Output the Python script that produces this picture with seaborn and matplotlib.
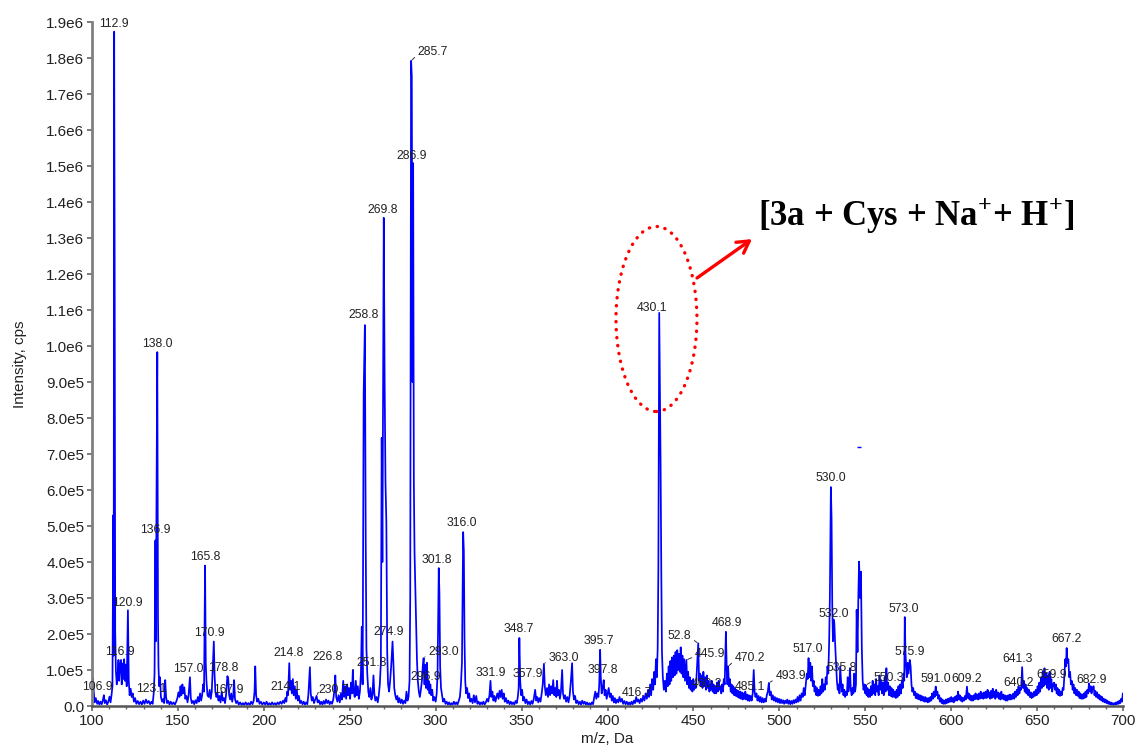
import numpy as np
import pandas as pd
import matplotlib
matplotlib.use("Agg")
import matplotlib.pyplot as plt
from matplotlib.patches import Ellipse
import seaborn as sns

# Profile spectrum, (m/z, intensity in kcps), split by m/z range
seg_100_200 = [
    (100.0, 15), (100.5, 78), (101.0, 40), (101.5, 10), (102.2, 22), (103.0, 6), (103.6, 14), (104.3, 4),
    (105.0, 12), (105.7, 5), (106.4, 18), (106.9, 30), (107.4, 8), (108.1, 16), (108.8, 4), (109.5, 12),
    (110.2, 26), (110.8, 10), (111.4, 32), (111.9, 55), (112.4, 530), (112.6, 140), (112.9, 1873),
    (113.2, 1190), (113.5, 210), (113.9, 98), (114.4, 60), (114.9, 85), (115.4, 128), (115.8, 70),
    (116.3, 110), (116.9, 128), (117.3, 60), (117.8, 118), (118.3, 75), (118.7, 130), (119.2, 70),
    (119.7, 115), (120.2, 55), (120.9, 266), (121.4, 70), (121.9, 30), (122.5, 48), (123.1, 25),
    (123.7, 35), (124.4, 12), (125.1, 22), (125.8, 6), (126.6, 14), (127.4, 5), (128.2, 12), (129.0, 4),
    (129.8, 15), (130.6, 6), (131.4, 18), (132.2, 8), (133.0, 14), (133.8, 5), (134.6, 12), (135.3, 6),
    (135.9, 35), (136.4, 90), (136.9, 460), (137.2, 180), (137.5, 540), (138.0, 983), (138.4, 250),
    (138.7, 109), (139.1, 55), (139.6, 80), (140.1, 25), (140.8, 12), (141.5, 20), (142.0, 8), (142.6, 72),
    (143.1, 25), (143.7, 8), (144.4, 14), (145.1, 4), (145.8, 12), (146.6, 5), (147.4, 10), (148.2, 4),
    (149.0, 12), (149.7, 22), (150.3, 38), (150.9, 25), (151.5, 55), (152.0, 30), (152.6, 60), (153.1, 35),
    (153.7, 52), (154.3, 20), (154.9, 28), (155.6, 10), (156.2, 30), (157.0, 80), (157.5, 22), (158.1, 8),
    (158.8, 14), (159.5, 5), (160.2, 16), (160.9, 8), (161.6, 25), (162.2, 12), (162.9, 35), (163.5, 15),
    (164.1, 30), (164.7, 60), (165.2, 40), (165.8, 390), (166.2, 120), (166.6, 70), (167.2, 30), (167.9, 25),
    (168.5, 45), (169.1, 20), (169.7, 40), (170.3, 110), (170.9, 179), (171.3, 90), (171.8, 40), (172.4, 25),
    (173.0, 35), (173.6, 15), (174.2, 28), (174.8, 10), (175.5, 40), (176.1, 15), (176.8, 22), (177.4, 8),
    (178.0, 30), (178.8, 83), (179.3, 75), (179.8, 30), (180.4, 18), (181.0, 35), (181.6, 12), (182.2, 28),
    (182.7, 72), (183.2, 20), (183.9, 8), (184.6, 14), (185.4, 4), (186.2, 10), (187.0, 3), (187.8, 8),
    (188.6, 3), (189.4, 10), (190.2, 4), (191.0, 8), (191.8, 3), (192.6, 12), (193.4, 5), (194.1, 15),
    (194.6, 40), (195.0, 110), (195.5, 30), (196.1, 12), (196.8, 20), (197.5, 6), (198.3, 12), (199.1, 4),
]

seg_200_300 = [
    (200.0, 10), (200.8, 4), (201.6, 12), (202.4, 3), (203.2, 8), (204.0, 3), (204.8, 10), (205.6, 4),
    (206.4, 8), (207.2, 3), (208.0, 10), (208.8, 5), (209.6, 12), (210.4, 6), (211.2, 15), (211.9, 8),
    (212.5, 22), (213.1, 12), (213.6, 40), (214.1, 30), (214.8, 119), (215.3, 45), (215.8, 70), (216.3, 35),
    (216.9, 75), (217.4, 30), (218.0, 55), (218.6, 20), (219.2, 45), (219.8, 15), (220.4, 28), (221.1, 8),
    (221.8, 14), (222.5, 5), (223.2, 12), (223.9, 4), (224.6, 10), (225.3, 5), (225.9, 30), (226.8, 107),
    (227.3, 35), (227.9, 15), (228.5, 25), (229.2, 8), (229.9, 18), (230.7, 28), (231.3, 10), (232.0, 16),
    (232.7, 5), (233.4, 12), (234.1, 4), (234.8, 14), (235.5, 6), (236.2, 18), (236.9, 8), (237.6, 15),
    (238.3, 5), (239.0, 12), (239.7, 6), (240.4, 18), (241.0, 40), (241.6, 85), (242.1, 25), (242.8, 12),
    (243.5, 30), (244.2, 10), (244.9, 35), (245.5, 18), (246.2, 70), (246.7, 25), (247.3, 55), (247.9, 20),
    (248.5, 60), (249.0, 30), (249.6, 50), (250.2, 20), (250.8, 65), (251.3, 35), (251.8, 100), (252.3, 40),
    (252.9, 25), (253.5, 70), (254.1, 30), (254.7, 55), (255.3, 20), (255.9, 40), (256.5, 90), (257.0, 220),
    (257.5, 60), (258.1, 870), (258.8, 1058), (259.3, 450), (259.7, 160), (260.2, 90), (260.8, 40),
    (261.4, 25), (262.0, 50), (262.6, 18), (263.2, 30), (263.8, 85), (264.3, 35), (264.9, 15), (265.6, 25),
    (266.3, 10), (266.9, 30), (267.5, 60), (268.1, 120), (268.6, 745), (269.0, 400), (269.8, 1356),
    (270.3, 900), (270.8, 620), (271.3, 510), (271.8, 150), (272.3, 60), (272.9, 40), (273.5, 70),
    (274.1, 110), (274.9, 179), (275.4, 120), (275.9, 50), (276.5, 30), (277.1, 18), (277.7, 28), (278.3, 10),
    (278.9, 22), (279.6, 8), (280.3, 18), (281.0, 6), (281.7, 15), (282.4, 8), (283.0, 40), (283.6, 15),
    (284.2, 25), (284.8, 70), (285.2, 300), (285.7, 1792), (286.1, 1750), (286.5, 900), (286.9, 1508),
    (287.3, 620), (287.7, 427), (288.1, 340), (288.6, 220), (289.1, 130), (289.6, 70), (290.2, 40),
    (290.8, 25), (291.4, 45), (292.0, 70), (292.5, 110), (293.0, 133), (293.5, 60), (293.9, 115), (294.4, 50),
    (294.9, 120), (295.4, 45), (295.9, 70), (296.4, 35), (296.9, 60), (297.4, 30), (298.0, 45), (298.6, 15),
    (299.2, 25),
]

seg_300_420 = [
    (300.0, 12), (300.6, 35), (301.1, 90), (301.8, 383), (302.2, 310), (302.6, 110), (303.1, 50), (303.7, 30),
    (304.3, 12), (305.0, 20), (305.7, 6), (306.4, 12), (307.1, 4), (307.8, 10), (308.5, 3), (309.2, 8),
    (309.9, 4), (310.6, 12), (311.3, 5), (312.0, 10), (312.7, 4), (313.4, 14), (314.1, 25), (314.7, 60),
    (315.3, 120), (316.0, 483), (316.4, 430), (316.8, 180), (317.2, 70), (317.7, 35), (318.3, 50), (318.9, 22),
    (319.5, 35), (320.1, 12), (320.8, 20), (321.5, 8), (322.2, 30), (322.9, 10), (323.6, 28), (324.3, 6),
    (325.0, 12), (325.7, 4), (326.4, 10), (327.1, 5), (327.8, 12), (328.5, 4), (329.2, 10), (329.9, 20),
    (330.6, 12), (331.3, 30), (331.9, 70), (332.4, 25), (333.0, 40), (333.6, 15), (334.2, 28), (334.8, 12),
    (335.4, 25), (336.0, 35), (336.6, 20), (337.2, 42), (337.8, 25), (338.4, 45), (339.0, 20), (339.6, 35),
    (340.2, 12), (340.9, 22), (341.6, 8), (342.3, 15), (343.0, 5), (343.7, 12), (344.4, 5), (345.1, 10),
    (345.8, 4), (346.5, 14), (347.2, 8), (347.8, 25), (348.3, 50), (348.7, 189), (349.2, 70), (349.7, 30),
    (350.3, 45), (350.9, 15), (351.5, 25), (352.2, 8), (352.9, 18), (353.6, 5), (354.3, 12), (355.0, 4),
    (355.7, 14), (356.4, 6), (357.1, 20), (357.9, 45), (358.5, 15), (359.1, 25), (359.7, 10), (360.3, 22),
    (361.0, 12), (361.7, 35), (362.3, 60), (363.0, 117), (363.5, 55), (364.1, 30), (364.8, 50), (365.4, 25),
    (366.0, 60), (366.6, 30), (367.2, 55), (367.8, 35), (368.4, 72), (369.0, 30), (369.6, 50), (370.2, 25),
    (370.6, 70), (371.1, 30), (371.7, 45), (372.3, 20), (372.9, 40), (373.6, 100), (374.1, 35), (374.7, 20),
    (375.3, 30), (375.9, 12), (376.6, 25), (377.3, 10), (378.0, 30), (378.7, 70), (379.4, 119), (379.9, 40),
    (380.5, 18), (381.1, 28), (381.8, 8), (382.5, 15), (383.2, 5), (383.9, 12), (384.6, 4), (385.3, 15),
    (386.0, 6), (386.7, 12), (387.4, 4), (388.1, 10), (388.8, 3), (389.5, 8), (390.2, 3), (390.9, 10),
    (391.6, 5), (392.3, 25), (392.9, 40), (393.5, 20), (394.1, 35), (394.7, 25), (395.2, 60), (395.7, 156),
    (396.1, 80), (396.6, 35), (397.2, 50), (397.8, 72), (398.3, 30), (398.9, 45), (399.5, 20), (400.1, 35),
    (400.7, 50), (401.3, 25), (401.9, 35), (402.5, 15), (403.1, 28), (403.7, 10), (404.3, 22), (404.9, 8),
    (405.6, 18), (406.3, 10), (407.0, 25), (407.7, 12), (408.4, 20), (409.1, 6), (409.8, 14), (410.5, 5),
    (411.2, 12), (411.9, 4), (412.6, 10), (413.3, 3), (414.0, 12), (414.7, 5), (415.4, 15), (416.0, 8),
    (416.7, 25), (417.3, 12), (418.0, 18), (418.7, 8), (419.4, 20),
]

seg_420_520 = [
    (420.1, 12), (420.8, 28), (421.5, 15), (422.2, 35), (422.9, 20), (423.6, 45), (424.2, 25), (424.8, 60),
    (425.4, 30), (426.0, 75), (426.6, 45), (427.2, 95), (427.7, 60), (428.2, 130), (428.7, 80), (429.2, 160),
    (429.6, 380), (430.1, 1092), (430.5, 880), (430.9, 670), (431.3, 380), (431.7, 150), (432.2, 80),
    (432.8, 45), (433.4, 70), (434.0, 40), (434.6, 90), (435.1, 55), (435.6, 110), (436.1, 60), (436.6, 125),
    (437.1, 70), (437.6, 135), (438.1, 80), (438.6, 140), (439.1, 85), (439.6, 150), (440.1, 90), (440.6, 155),
    (441.1, 100), (441.6, 145), (442.1, 95), (442.6, 163), (443.1, 90), (443.6, 140), (444.1, 80), (444.6, 130),
    (445.1, 70), (445.9, 128), (446.4, 60), (446.9, 95), (447.4, 50), (447.9, 80), (448.4, 45), (448.9, 70),
    (449.4, 40), (449.9, 75), (450.4, 45), (450.9, 60), (451.4, 50), (451.9, 90), (452.8, 174), (453.3, 70),
    (453.8, 90), (454.3, 55), (454.8, 85), (455.3, 50), (455.8, 95), (456.3, 55), (456.8, 80), (457.3, 45),
    (457.8, 85), (458.3, 50), (458.8, 70), (459.3, 40), (459.8, 60), (460.2, 45), (460.7, 70), (461.2, 40),
    (461.7, 60), (462.2, 35), (462.7, 55), (463.2, 35), (463.7, 65), (464.2, 40), (464.7, 70), (465.2, 45),
    (465.7, 55), (466.2, 35), (466.7, 60), (467.2, 40), (467.7, 75), (468.2, 60), (468.9, 206), (469.4, 100),
    (469.8, 60), (470.2, 110), (470.7, 55), (471.2, 75), (471.7, 40), (472.2, 60), (472.7, 35), (473.2, 55),
    (473.7, 30), (474.2, 50), (474.7, 28), (475.2, 45), (475.7, 25), (476.2, 42), (476.7, 22), (477.2, 40),
    (477.7, 20), (478.2, 38), (478.7, 18), (479.2, 35), (479.7, 20), (480.2, 40), (480.7, 18), (481.2, 32),
    (481.7, 15), (482.2, 30), (482.7, 14), (483.3, 28), (483.9, 15), (484.5, 35), (485.1, 100), (485.6, 40),
    (486.1, 25), (486.7, 35), (487.3, 15), (487.9, 28), (488.5, 12), (489.1, 25), (489.7, 10), (490.3, 22),
    (490.9, 10), (491.5, 20), (492.1, 12), (492.7, 30), (493.3, 40), (493.9, 64), (494.4, 30), (495.0, 40),
    (495.6, 18), (496.2, 30), (496.8, 15), (497.4, 25), (498.0, 12), (498.6, 22), (499.2, 10), (499.8, 20),
    (500.4, 8), (501.0, 18), (501.6, 8), (502.2, 16), (502.8, 6), (503.4, 15), (504.0, 8), (504.6, 18),
    (505.2, 6), (505.8, 15), (506.4, 5), (507.0, 14), (507.6, 6), (508.2, 16), (508.8, 8), (509.4, 18),
    (510.0, 10), (510.6, 25), (511.2, 12), (511.8, 30), (512.4, 15), (513.0, 35), (513.6, 25), (514.2, 50),
    (514.8, 30), (515.4, 60), (516.0, 90), (516.5, 75), (517.0, 133), (517.5, 80), (518.0, 120), (518.5, 70),
    (519.0, 110), (519.5, 55),
]

seg_520_620 = [
    (520.0, 70), (520.5, 40), (521.0, 55), (521.5, 30), (522.0, 50), (522.5, 28), (523.0, 45), (523.5, 30),
    (524.0, 55), (524.5, 35), (525.0, 75), (525.5, 40), (526.0, 60), (526.5, 45), (527.0, 80), (527.5, 60),
    (528.0, 110), (528.5, 90), (529.0, 180), (529.4, 300), (530.0, 608), (530.4, 520), (530.8, 280),
    (531.2, 180), (531.6, 240), (532.0, 231), (532.5, 170), (533.0, 120), (533.5, 70), (534.0, 45),
    (534.5, 60), (535.0, 35), (535.4, 110), (535.8, 80), (536.3, 40), (536.8, 60), (537.3, 30), (537.8, 45),
    (538.3, 25), (538.8, 40), (539.3, 30), (539.8, 80), (540.2, 40), (540.7, 60), (541.1, 105), (541.6, 45),
    (542.1, 30), (542.6, 50), (543.1, 35), (543.6, 90), (544.1, 40), (544.6, 60), (545.0, 267), (545.5, 150),
    (546.0, 310), (546.4, 401), (547.0, 300), (547.5, 373), (548.0, 160), (548.5, 70), (549.0, 45),
    (549.5, 60), (550.0, 35), (550.3, 58), (550.8, 30), (551.3, 50), (551.8, 25), (552.3, 45), (552.8, 25),
    (553.3, 55), (553.8, 30), (554.3, 70), (554.8, 35), (555.3, 60), (555.8, 30), (556.3, 75), (556.8, 40),
    (557.3, 55), (557.8, 30), (558.3, 85), (558.8, 45), (559.3, 70), (559.8, 35), (560.3, 65), (560.8, 30),
    (561.3, 80), (561.8, 40), (562.3, 105), (562.8, 45), (563.3, 65), (563.8, 30), (564.3, 55), (564.8, 28),
    (565.3, 50), (565.8, 25), (566.3, 45), (566.8, 25), (567.3, 40), (567.8, 22), (568.3, 45), (568.8, 25),
    (569.3, 55), (569.8, 30), (570.3, 60), (570.8, 35), (571.3, 70), (571.8, 50), (572.3, 90), (572.7, 70),
    (573.0, 247), (573.4, 150), (573.8, 110), (574.2, 80), (574.7, 120), (575.2, 90), (575.9, 128),
    (576.4, 110), (576.9, 60), (577.4, 40), (577.9, 50), (578.4, 30), (578.9, 40), (579.4, 22), (579.9, 35),
    (580.4, 20), (580.9, 32), (581.4, 18), (581.9, 30), (582.4, 15), (582.9, 28), (583.4, 15), (583.9, 25),
    (584.4, 12), (584.9, 25), (585.4, 12), (585.9, 22), (586.4, 10), (586.9, 22), (587.4, 12), (587.9, 25),
    (588.4, 15), (588.9, 35), (589.4, 20), (589.9, 40), (590.4, 25), (591.0, 54), (591.5, 30), (592.0, 40),
    (592.5, 20), (593.0, 30), (593.5, 12), (594.0, 22), (594.5, 8), (595.0, 18), (595.5, 6), (596.0, 15),
    (596.5, 6), (597.0, 18), (597.5, 8), (598.0, 20), (598.5, 10), (599.0, 22), (599.5, 12), (600.0, 25),
    (600.5, 12), (601.0, 22), (601.5, 10), (602.0, 25), (602.5, 15), (603.0, 28), (603.5, 15), (604.0, 40),
    (604.5, 18), (605.0, 30), (605.5, 15), (606.0, 25), (606.5, 12), (607.0, 22), (607.5, 15), (608.0, 28),
    (608.5, 18), (609.2, 54), (609.7, 22), (610.2, 35), (610.7, 18), (611.2, 30), (611.7, 15), (612.2, 28),
    (612.7, 15), (613.2, 30), (613.7, 18), (614.2, 35), (614.7, 20), (615.2, 32), (615.7, 18), (616.2, 35),
    (616.7, 20), (617.2, 40), (617.7, 22), (618.2, 35), (618.7, 20), (619.2, 38), (619.7, 22),
]

seg_620_700 = [
    (620.2, 40), (620.7, 22), (621.2, 45), (621.7, 25), (622.2, 38), (622.7, 20), (623.2, 42), (623.7, 22),
    (624.2, 48), (624.7, 25), (625.2, 40), (625.7, 20), (626.2, 45), (626.7, 25), (627.2, 38), (627.7, 20),
    (628.2, 35), (628.7, 18), (629.2, 40), (629.7, 20), (630.2, 32), (630.7, 18), (631.2, 30), (631.7, 15),
    (632.2, 28), (632.7, 15), (633.2, 30), (633.7, 18), (634.2, 32), (634.7, 18), (635.2, 30), (635.7, 20),
    (636.2, 35), (636.7, 20), (637.2, 40), (637.7, 25), (638.2, 45), (638.7, 30), (639.2, 55), (639.7, 35),
    (640.2, 50), (640.7, 45), (641.3, 108), (641.8, 50), (642.3, 70), (642.8, 40), (643.3, 60), (643.8, 35),
    (644.3, 50), (644.8, 30), (645.3, 45), (645.8, 25), (646.3, 38), (646.8, 22), (647.3, 35), (647.8, 25),
    (648.3, 40), (648.8, 28), (649.3, 45), (649.8, 30), (650.3, 55), (650.8, 35), (651.3, 65), (651.8, 40),
    (652.3, 80), (652.8, 50), (653.3, 95), (653.8, 55), (654.3, 105), (654.8, 60), (655.3, 90), (655.8, 50),
    (656.3, 85), (656.8, 45), (657.3, 95), (657.8, 50), (658.3, 75), (658.8, 40), (659.3, 60), (659.9, 65),
    (660.4, 45), (660.9, 60), (661.4, 35), (661.9, 50), (662.4, 30), (662.9, 45), (663.4, 28), (663.9, 40),
    (664.4, 30), (664.9, 50), (665.4, 45), (665.9, 90), (666.4, 130), (666.8, 110), (667.2, 161), (667.7, 120),
    (668.2, 130), (668.7, 80), (669.2, 95), (669.7, 60), (670.2, 70), (670.7, 45), (671.2, 60), (671.7, 35),
    (672.2, 50), (672.7, 30), (673.2, 45), (673.7, 28), (674.2, 40), (674.7, 22), (675.2, 35), (675.7, 20),
    (676.2, 32), (676.7, 20), (677.2, 35), (677.7, 22), (678.2, 40), (678.7, 25), (679.2, 45), (679.7, 35),
    (680.2, 63), (680.7, 40), (681.2, 55), (681.7, 35), (682.2, 50), (682.9, 55), (683.4, 30), (683.9, 42),
    (684.4, 25), (684.9, 38), (685.4, 22), (685.9, 32), (686.4, 18), (686.9, 28), (687.4, 15), (687.9, 25),
    (688.4, 12), (688.9, 20), (689.4, 10), (689.9, 18), (690.4, 8), (690.9, 15), (691.4, 6), (691.9, 12),
    (692.4, 5), (692.9, 10), (693.4, 4), (693.9, 8), (694.4, 3), (694.9, 8), (695.4, 4), (695.9, 10),
    (696.4, 5), (696.9, 12), (697.4, 6), (697.9, 15), (698.4, 8), (698.9, 20), (699.4, 12), (699.9, 35),
]

# isolated detector point above the 546 m/z cluster (m/z, kcps)
stray_points = [(546.4, 719)]

# centroid labels (m/z) printed above the peaks
peak_labels = [
    112.9, 106.9, 116.9, 120.9, 123.1, 136.9, 138.0, 157.0, 165.8, 167.9, 170.9, 178.8,
    214.1, 214.8, 226.8, 230.7, 251.8, 258.8, 269.8, 274.9, 285.7, 286.9, 293.0, 296.9,
    301.8, 316.0, 331.9, 348.7, 357.9, 363.0, 395.7, 397.8, 416.7, 430.1, 445.9, 452.8,
    460.2, 468.9, 470.2, 485.1, 493.9, 517.0, 530.0, 532.0, 535.8, 550.3, 573.0, 575.9,
    591.0, 609.2, 640.2, 641.3, 659.9, 667.2, 682.9,
]
label_text = {452.8: "52.8"}

y_tick_labels = ["0.0", "1.0e5", "2.0e5", "3.0e5", "4.0e5", "5.0e5", "6.0e5", "7.0e5", "8.0e5",
                 "9.0e5", "1.0e6", "1.1e6", "1.2e6", "1.3e6", "1.4e6", "1.5e6", "1.6e6", "1.7e6",
                 "1.8e6", "1.9e6"]
callout_text = r"[3a + Cys + Na$^{\mathbf{+}}$+ H$^{\mathbf{+}}$]"

# label placement: offset of label centre from the peak apex, in pixels
label_offset = {
    112.9: (0, 8), 106.9: (-6, 8.5), 116.9: (-1, 8), 120.9: (0, 7), 123.1: (20, 7.5),
    136.9: (0, 10), 138.0: (0, 8), 157.0: (-2, 8), 165.8: (0, 9), 167.9: (20, 7),
    170.9: (-4, 9), 178.8: (-4, 8), 214.1: (-2, 8.5), 214.8: (-1, 10), 226.8: (18, 10),
    230.7: (17, 6), 251.8: (19, 6.5), 258.8: (-1, 10), 269.8: (-1, 8), 274.9: (-4, 10),
    285.7: (22, 9), 286.9: (-1, 7), 293.0: (20, 6.5), 296.9: (-5, 7), 301.8: (-2, 8),
    316.0: (-1, 9), 331.9: (0, 8), 348.7: (-1, 9), 357.9: (-7, 16), 363.0: (20, 6),
    395.7: (-1, 9), 397.8: (-1, 10), 416.7: (1, 4), 430.1: (-7, 5), 445.9: (24, 6),
    452.8: (-19, 7.5), 460.2: (-4, 6), 468.9: (1, 9), 470.2: (22, 8.5), 485.1: (-4, -17),
    493.9: (22, 6.5), 517.0: (-1, 9), 530.0: (0, 9), 532.0: (-1, 9), 535.8: (1, 9),
    550.3: (23, 7), 573.0: (-1, 8), 575.9: (0, 8), 591.0: (0, 8), 609.2: (0, 8),
    640.2: (-2, 5), 641.3: (-5, 8), 659.9: (-2, 7.5), 667.2: (0, 9), 682.9: (-2, 6),
}
# labels joined to their peak by a short leader (value = side of the text it leaves from)
leader_side = {123.1: 0, 167.9: 0, 226.8: 0, 230.7: 0, 251.8: 0, 285.7: 0, 293.0: 0,
               363.0: 0, 445.9: 0, 452.8: 1, 470.2: 0, 493.9: 0, 550.3: 0}

sns.set_theme(style="ticks")
plt.rcParams["font.family"] = ["Liberation Sans", "DejaVu Sans"]
plt.rcParams["mathtext.fontset"] = "custom"
plt.rcParams["mathtext.rm"] = "Liberation Serif"
plt.rcParams["mathtext.bf"] = "Liberation Serif:bold"

W, H = 1135, 751
fig = plt.figure(figsize=(W / 100, H / 100), dpi=100)
ax = fig.add_axes([92 / W, 45 / H, (1123 - 92) / W, (706 - 22) / H])

segments = [seg_100_200, seg_200_300, seg_300_420, seg_420_520, seg_520_620, seg_620_700]
spec = pd.DataFrame([p for seg in segments for p in seg], columns=["mz", "kcps"])
spec["intensity"] = spec["kcps"] * 1e3
spec = spec.sort_values("mz").reset_index(drop=True)

blue = "#0000ff"
sns.lineplot(data=spec, x="mz", y="intensity", ax=ax, color=blue, lw=1.25,
             estimator=None, sort=False, legend=False)

stray = pd.DataFrame(stray_points, columns=["mz", "kcps"])
stray["intensity"] = stray["kcps"] * 1e3
sns.scatterplot(data=stray, x="mz", y="intensity", ax=ax, marker="_", s=12,
                color=blue, linewidth=1.0, legend=False)

ax.set_xlim(100, 700)
ax.set_ylim(0, 1.9e6)
ax.set_xticks(np.arange(100, 701, 50))
ax.set_xticks(np.arange(100, 701, 10), minor=True)
ax.set_yticks(np.arange(0, 1.9e6 + 1, 1e5))
ax.set_yticklabels(y_tick_labels)

for side in ("top", "right"):
    ax.spines[side].set_visible(False)
ax.spines["left"].set_color("#808080")
ax.spines["left"].set_linewidth(2.0)
ax.spines["bottom"].set_color("#555555")
ax.spines["bottom"].set_linewidth(1.8)

ax.tick_params(axis="both", which="major", direction="out", length=3.5, width=1.2,
               color="#666666", labelsize=11, labelcolor="#222222", pad=2)
ax.tick_params(axis="x", which="minor", direction="out", length=2.5, width=1.0, color="#666666")
ax.tick_params(axis="y", which="minor", length=0)

ax.set_xlabel("m/z, Da", fontsize=11, color="#222222", labelpad=3)
ax.set_ylabel("Intensity, cps", fontsize=11, color="#222222", labelpad=14)

# peak labels
lookup = dict(zip(spec["mz"].round(1), spec["intensity"]))
for mz in peak_labels:
    top = lookup[round(mz, 1)]
    dx, dy = label_offset.get(mz, (0, 8))
    kw = {}
    if mz in leader_side:
        kw["arrowprops"] = dict(arrowstyle="-", color="#333333", lw=0.7, shrinkA=0, shrinkB=1,
                                relpos=(leader_side[mz], 0.3))
    ann = ax.annotate(label_text.get(mz, f"{mz:.1f}"), xy=(mz, top), xytext=(dx, dy),
                      textcoords="offset pixels", ha="center", va="center", fontsize=8.8,
                      color="#222222", annotation_clip=False, zorder=4, **kw)
    if mz < 110:
        ann.set_clip_on(True)

# highlighted adduct peak
ax.add_patch(Ellipse((428.5, 10.75e5), 47.1, 5.14e5, fill=False, edgecolor="#ff0000",
                     lw=2.4, linestyle=(0, (0.1, 2.3)), capstyle="round", zorder=5))
ax.annotate("", xy=(484.1, 12.97e5), xytext=(452.1, 11.89e5),
            arrowprops=dict(arrowstyle="->,head_length=0.7,head_width=0.4", color="#ff0000",
                            lw=2.4, shrinkA=0, shrinkB=0), zorder=5)
ax.text(487.6, 13.62e5, callout_text, fontfamily="Liberation Serif", fontweight="bold",
        fontsize=25, ha="left", va="center", color="black")

fig.savefig("out.png", dpi=100)
